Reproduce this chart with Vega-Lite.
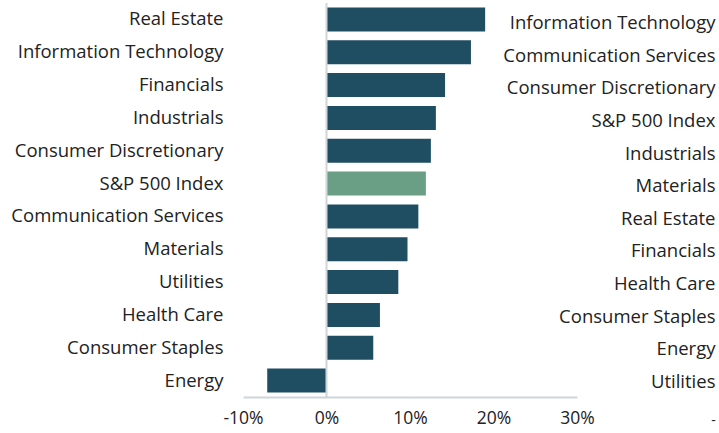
{
  "$schema": "https://vega.github.io/schema/vega-lite/v6.json",
  "width": 334,
  "height": 394,
  "autosize": {"type": "none"},
  "padding": {"left": 243, "top": 3, "right": 142, "bottom": 36},
  "background": "white",
  "config": {"view": {"stroke": null}, "font": "Open Sans"},
  "datasets": {
    "bars": [
      {"sector": "Real Estate", "ret": 19.0, "grp": "sector"},
      {"sector": "Information Technology", "ret": 17.3, "grp": "sector"},
      {"sector": "Financials", "ret": 14.2, "grp": "sector"},
      {"sector": "Industrials", "ret": 13.1, "grp": "sector"},
      {"sector": "Consumer Discretionary", "ret": 12.5, "grp": "sector"},
      {"sector": "S&P 500 Index", "ret": 11.9, "grp": "index"},
      {"sector": "Communication Services", "ret": 11.0, "grp": "sector"},
      {"sector": "Materials", "ret": 9.7, "grp": "sector"},
      {"sector": "Utilities", "ret": 8.6, "grp": "sector"},
      {"sector": "Health Care", "ret": 6.4, "grp": "sector"},
      {"sector": "Consumer Staples", "ret": 5.6, "grp": "sector"},
      {"sector": "Energy", "ret": -7.1, "grp": "sector"}
    ],
    "right": [
      {"name": "Information Technology", "rank": 1},
      {"name": "Communication Services", "rank": 2},
      {"name": "Consumer Discretionary", "rank": 3},
      {"name": "S&P 500 Index", "rank": 4},
      {"name": "Industrials", "rank": 5},
      {"name": "Materials", "rank": 6},
      {"name": "Real Estate", "rank": 7},
      {"name": "Financials", "rank": 8},
      {"name": "Health Care", "rank": 9},
      {"name": "Consumer Staples", "rank": 10},
      {"name": "Energy", "rank": 11},
      {"name": "Utilities", "rank": 12}
    ],
    "zero": [{"v": 0}]
  },
  "layer": [
    {
      "data": {"name": "bars"},
      "mark": {"type": "bar"},
      "encoding": {
        "y": {
          "field": "sector", "type": "nominal", "sort": null,
          "scale": {"paddingInner": 0.27, "paddingOuter": 0.135},
          "axis": {"title": null, "ticks": false, "domain": false, "labelPadding": 20, "labelLimit": 400, "labelFontSize": 18.5, "labelColor": "#222222", "labelFont": "Open Sans"}
        },
        "x": {
          "field": "ret", "type": "quantitative",
          "scale": {"domain": [-10, 30], "nice": false},
          "axis": {"values": [-10, 0, 10, 20, 30], "labelExpr": "datum.value + '%'", "labelFlush": false, "labelOverlap": false, "grid": false, "ticks": false, "domainColor": "#D0D5D9", "domainWidth": 2, "labelFontSize": 17.5, "labelColor": "#222222", "labelPadding": 12, "labelFont": "Open Sans", "title": "-", "titleX": 470, "titleY": 23, "titleBaseline": "middle", "titleAlign": "center", "titleFontWeight": "normal", "titleFontSize": 14, "titleColor": "#222222"}
        },
        "color": {
          "field": "grp", "type": "nominal",
          "scale": {"domain": ["sector", "index"], "range": ["#1F4E63", "#6A9F86"]},
          "legend": null
        }
      }
    },
    {
      "data": {"name": "zero"},
      "mark": {"type": "rule", "color": "#D0D5D9", "strokeWidth": 2},
      "encoding": {"x": {"field": "v", "type": "quantitative"}}
    },
    {
      "data": {"name": "right"},
      "mark": {"type": "tick", "opacity": 0},
      "encoding": {
        "y": {
          "field": "name", "type": "nominal", "sort": null,
          "scale": {"range": [4, 395], "paddingInner": 0.27, "paddingOuter": 0.135},
          "axis": {"orient": "right", "title": null, "ticks": false, "domain": false, "labelAlign": "right", "labelPadding": 138, "labelLimit": 400, "labelFontSize": 18.5, "labelColor": "#222222", "labelFont": "Open Sans"}
        }
      }
    }
  ],
  "resolve": {"scale": {"y": "independent"}, "axis": {"y": "independent"}}
}
